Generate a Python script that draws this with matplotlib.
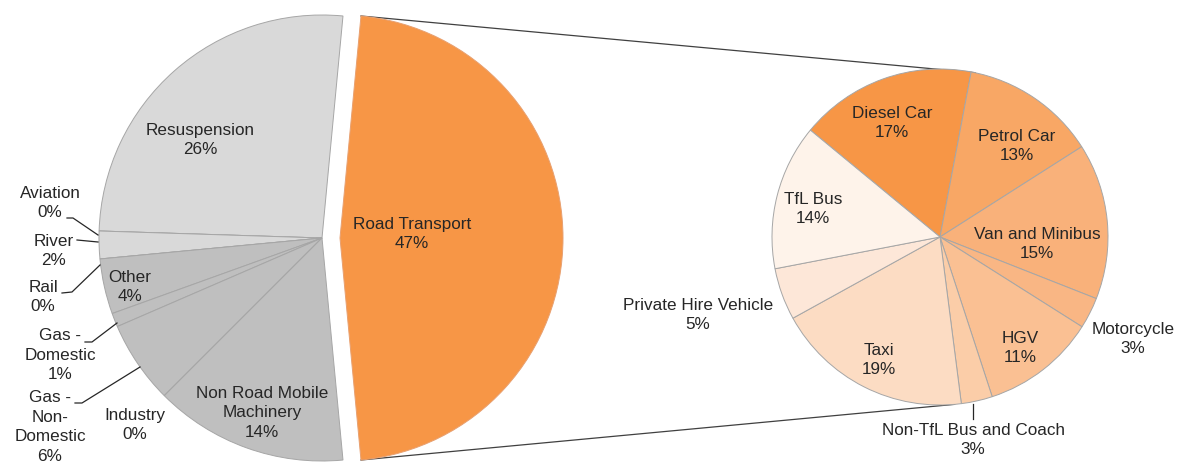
import matplotlib
matplotlib.use("Agg")
import matplotlib.pyplot as plt
import numpy as np

plt.rcParams['font.family'] = ['Liberation Sans', 'DejaVu Sans']

# ---- data ----
main_labels = ["Road Transport", "Resuspension", "Aviation", "River", "Rail", "Other",
               "Gas -\nDomestic", "Gas -\nNon-\nDomestic", "Industry",
               "Non Road Mobile\nMachinery"]
main_values = [47, 26, 0, 2, 0, 4, 1, 6, 0, 14]

road_labels = ["Diesel Car", "Petrol Car", "Van and Minibus", "Motorcycle", "HGV",
               "Non-TfL Bus and Coach", "Taxi", "Private Hire Vehicle", "TfL Bus"]
road_values = [17, 13, 15, 3, 11, 3, 19, 5, 14]

# ---- style ----
W, H = 1192, 467
main_colors = ["#F79646", "#D9D9D9", "#D9D9D9", "#D9D9D9", "#BFBFBF", "#BFBFBF",
               "#BFBFBF", "#BFBFBF", "#BFBFBF", "#BFBFBF"]
road_colors = ["#F79646", "#F8A765", "#F9B17A", "#F9B684", "#FAC093",
               "#FBCDA8", "#FCDCC3", "#FDE7D8", "#FEF3EA"]
edge = "#A6A6A6"
txt_color = "#262626"
fs = 12.3
ls = 1.4

fig = plt.figure(figsize=(W / 100, H / 100), dpi=100)
ax = fig.add_axes([0, 0, 1, 1])

def py(y):  # pixel (top-down) to data (bottom-up)
    return H - y

c1 = (322, py(238)); r1 = 223
c2 = (940, py(237)); r2 = 168

main_total = sum(main_values)
road_frac = main_values[0] / main_total
start1 = -road_frac * 360 / 2
explode = [18] + [0] * (len(main_values) - 1)   # offset in data units (pixels)
w1, _ = ax.pie(main_values, colors=main_colors, radius=r1, center=c1,
               startangle=start1, counterclock=True, explode=explode,
               wedgeprops=dict(edgecolor=edge, linewidth=0.7), normalize=True)
w1[0].set_edgecolor("#E8A070")

w2, _ = ax.pie(road_values, colors=road_colors, radius=r2, center=c2,
               startangle=140.5, counterclock=False,
               wedgeprops=dict(edgecolor=edge, linewidth=0.7), normalize=True)

# connector lines from exploded road wedge to secondary pie
rw = w1[0]
cx, cy = rw.center
t1, t2 = np.deg2rad(rw.theta1), np.deg2rad(rw.theta2)
top_pt = (cx + rw.r * np.cos(t2), cy + rw.r * np.sin(t2))
bot_pt = (cx + rw.r * np.cos(t1), cy + rw.r * np.sin(t1))
a_top, a_bot = np.deg2rad(78), np.deg2rad(-85)
top_end = (c2[0] + r2 * np.cos(a_top), c2[1] + r2 * np.sin(a_top))
bot_end = (c2[0] + r2 * np.cos(a_bot), c2[1] + r2 * np.sin(a_bot))
ax.plot([top_pt[0], top_end[0]], [top_pt[1], top_end[1]], color="#404040", lw=0.9, zorder=0)
ax.plot([bot_pt[0], bot_end[0]], [bot_pt[1], bot_end[1]], color="#404040", lw=0.9, zorder=0)

def lab(name, val):
    return f"{name}\n{val}%"

# label positions (pixel coords, top-down)
main_pos = {
    0: (412, 234), 1: (200, 140), 2: (50, 203), 3: (54, 251), 4: (43, 297),
    5: (130, 287), 6: (60, 355), 7: (50, 427), 8: (135, 425), 9: (262, 413),
}
for i, (x, y) in main_pos.items():
    ax.text(x, py(y), lab(main_labels[i], main_values[i]), ha="center", va="center",
            fontsize=fs, color=txt_color, linespacing=ls)

road_pos = {
    0: (892, 123), 1: (1017, 146), 2: (1037, 244), 3: (1133, 339), 4: (1020, 348),
    5: (973, 440), 6: (879, 360), 7: (698, 315), 8: (813, 209),
}
for i, (x, y) in road_pos.items():
    ax.text(x, py(y), lab(road_labels[i], road_values[i]), ha="center", va="center",
            fontsize=fs, color=txt_color, linespacing=ls)

# leader lines (pixel coords)
leaders = [
    [(67, 218), (73, 218), (98, 235)],
    [(77, 240), (98, 242)],
    [(62, 293), (72, 292), (100, 265)],
    [(85, 342), (92, 342), (117, 323)],
    [(75, 403), (82, 403), (140, 367)],
    [(973, 404), (973, 419)],
]
for pts in leaders:
    xs = [p[0] for p in pts]
    ys = [py(p[1]) for p in pts]
    ax.plot(xs, ys, color="#262626", lw=0.9)

ax.set_xlim(0, W)
ax.set_ylim(0, H)
ax.set_aspect("equal")
ax.axis("off")
fig.savefig("out.png", dpi=100)
